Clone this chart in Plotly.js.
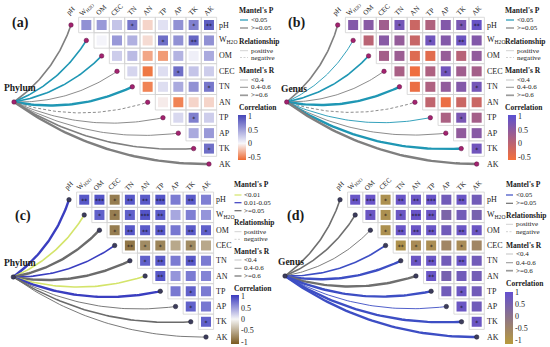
<!DOCTYPE html>
<html><head><meta charset="utf-8">
<script src="https://cdn.plot.ly/plotly-3.0.1.min.js"></script>
<style>html,body{margin:0;padding:0;background:#fff}#chart{width:550px;height:347px}</style>
</head><body><div id="chart"></div>
<script>
// ---------- DATA ----------
const variables = ['pH','W<sub>H2O</sub>','OM','CEC','TN','AN','TP','AP','TK','AK'];

// Environmental correlation matrix used in panels (a) and (b): upper triangle, row by row
const envCorrAB = [
  [0.60, 0.55, 0.30, 0.75, -0.15, 0.13, 0.60, 0.70, 0.90],
  [0.02, 0.55, 0.42, -0.12, 0.80, 0.60, 0.85, 0.60],
  [0.25, 0.35, -0.35, -0.40, 0.40, 0.05, 0.45],
  [0.20, -0.55, 0.15, 0.80, 0.30, 0.25],
  [-0.50, 0.15, 0.45, 0.60, 0.75],
  [-0.05, -0.50, -0.15, -0.15],
  [0.18, 0.70, 0.25],
  [0.45, 0.55],
  [0.80]
];
const envSigAB = [
  ['', '', '', '*', '', '', '', '*', '**'],
  ['', '', '', '', '*', '', '**', ''],
  ['', '', '', '', '', '', ''],
  ['', '', '', '*', '', ''],
  ['', '', '', '', '*'],
  ['', '', '', ''],
  ['', '*', ''],
  ['', ''],
  ['*']
];
// Environmental correlation matrix used in panels (c) and (d)
const envCorrCD = [
  [0.90, 0.92, -0.85, 0.90, 0.88, 0.92, 0.70, 0.88, 0.68],
  [0.85, -0.85, 0.85, 0.92, 0.88, 0.45, 0.68, 0.55],
  [-0.85, 0.90, 0.88, 0.90, 0.72, 0.88, 0.85],
  [-0.90, -0.75, -0.80, -0.55, -0.75, -0.55],
  [0.85, 0.90, 0.70, 0.90, 0.70],
  [0.90, 0.55, 0.70, 0.65],
  [0.72, 0.85, 0.70],
  [0.85, 0.72],
  [0.85]
];
const envSigCD = [
  ['**', '***', '*', '**', '**', '***', '', '**', ''],
  ['*', '*', '*', '***', '**', '', '', ''],
  ['*', '**', '**', '**', '', '**', '*'],
  ['**', '*', '*', '', '*', ''],
  ['*', '**', '', '**', ''],
  ['**', '', '', ''],
  ['', '*', ''],
  ['*', ''],
  ['*']
];

// Mantel test links (one per variable, in the order of `variables`)
const mantelP_A = ['>=0.05','<0.05','<0.05','>=0.05','<0.05','>=0.05','>=0.05','>=0.05','>=0.05','>=0.05'];
const mantelR_A = ['0.4-0.6','0.4-0.6','0.4-0.6','<0.4','>=0.6','<0.4','<0.4','<0.4','0.4-0.6','>=0.6'];
const relation_A = ['positive','positive','positive','positive','positive','negative','positive','positive','positive','positive'];

const mantelP_B = ['>=0.05','<0.05','<0.05','>=0.05','<0.05','>=0.05','<0.05','>=0.05','<0.05','>=0.05'];
const mantelR_B = ['0.4-0.6','<0.4','0.4-0.6','<0.4','>=0.6','<0.4','<0.4','<0.4','>=0.6','>=0.6'];
const relation_B = ['positive','positive','positive','positive','positive','negative','positive','positive','positive','positive'];

const mantelP_C = ['0.01-0.05','<0.01','>=0.05','0.01-0.05','>=0.05','<0.01','0.01-0.05','>=0.05','>=0.05','>=0.05'];
const mantelR_C = ['>=0.6','0.4-0.6','>=0.6','0.4-0.6','>=0.6','0.4-0.6','>=0.6','<0.4','0.4-0.6','<0.4'];
const relation_C = ['positive','positive','positive','positive','positive','positive','positive','positive','positive','positive'];

const mantelP_D = ['>=0.05','>=0.05','>=0.05','<0.05','<0.05','>=0.05','<0.05','<0.05','<0.05','<0.05'];
const mantelR_D = ['0.4-0.6','0.4-0.6','<0.4','0.4-0.6','>=0.6','>=0.6','>=0.6','<0.4','>=0.6','>=0.6'];
const relation_D = ['positive','positive','positive','positive','positive','positive','positive','positive','positive','positive'];

const rLevels = ['<0.4','0.4-0.6','>=0.6'];
const corrTicks = [1, 0.5, 0, -0.5];
const corrTicksFull = [1, 0.5, 0, -0.5, -1];

// ---------- STYLE / LAYOUT ----------
const W = 550, H = 347;
const px = x => x / W, py = y => 1 - y / H;
const SERIF = '"Liberation Serif", "Times New Roman", serif';
const TXT = '#1a1a1a';
const rWidth = {'<0.4': 0.9, '0.4-0.6': 1.6, '>=0.6': 2.4};
const legRWidth = [0.6, 1.1, 1.7];
const CURV = 0.16;

const panels = [
  {letter:'(a)', letterPos:[20.5,23], group:'Phylum', groupPos:[3,88],
   corr:envCorrAB, sig:envSigAB, P:mantelP_A, R:mantelR_A, S:relation_A,
   box:[0,0,275,173], g0:[71,25], cell:[15.33,15.45], hub:[14,102],
   pLevels:['<0.05','>=0.05'], pColors:{'<0.05':'#1f97b4','>=0.05':'#7f7f7f'},
   dot:'#a3226f', dotLine:'#5c1040',
   cs:[[0,'#ee6a30'],[0.37,'#f7f7fb'],[1,'#4646b8']], cmin:-0.61, cmax:1.04,
   ticks:corrTicks, cb:[238,115,45],
   leg:{x:238, lx0:240, lx1:248, tx:250, P:10.7, Pi:[20,28], Rel:41.7, Reli:[50.7,57.5], R:70.7, Ri:[80,87.3,95.3], C:107.3}},
  {letter:'(b)', letterPos:[296,23], group:'Genus', groupPos:[280,89],
   corr:envCorrAB, sig:envSigAB, P:mantelP_B, R:mantelR_B, S:relation_B,
   box:[275,0,550,173], g0:[337.7,25], cell:[15.44,15.45], hub:[286.7,102],
   pLevels:['<0.05','>=0.05'], pColors:{'<0.05':'#1f97b4','>=0.05':'#7f7f7f'},
   dot:'#a3226f', dotLine:'#5c1040',
   cs:[[0,'#f5703a'],[1,'#5a50d2']], cmin:-0.61, cmax:1.04,
   ticks:corrTicks, cb:[507.5,115,45],
   leg:{x:504, lx0:506, lx1:514, tx:516, P:10.7, Pi:[20,28], Rel:41.7, Reli:[50.7,57.5], R:70.7, Ri:[80,87.3,95.3], C:107.3}},
  {letter:'(c)', letterPos:[22.5,216], group:'Phylum', groupPos:[3,263],
   corr:envCorrCD, sig:envSigCD, P:mantelP_C, R:mantelR_C, S:relation_C,
   box:[0,173,275,347], g0:[69,199.7], cell:[15.22,15.26], hub:[13.3,277],
   pLevels:['<0.01','0.01-0.05','>=0.05'], pColors:{'<0.01':'#d4e46a','0.01-0.05':'#3a3ec0','>=0.05':'#6b6b6b'},
   dot:'#3c3c5c', dotLine:'#1e1e30',
   cs:[[0,'#7a5a20'],[0.507,'#f6f6f6'],[1,'#3a3abf']], cmin:-1.1, cmax:1.07,
   ticks:corrTicksFull, cb:[231,295,49],
   leg:{x:233, lx0:234.5, lx1:241.5, tx:243, P:184, Pi:[195,202.7,210.7], Rel:222.7, Reli:[231.7,239.3], R:251.7, Ri:[260,268.3,276], C:288.3}},
  {letter:'(d)', letterPos:[295,216], group:'Genus', groupPos:[277,262],
   corr:envCorrCD, sig:envSigCD, P:mantelP_D, R:mantelR_D, S:relation_D,
   box:[275,173,550,347], g0:[340,199.7], cell:[15.19,15.26], hub:[285,276],
   pLevels:['<0.05','>=0.05'], pColors:{'<0.05':'#3d4ec4','>=0.05':'#6f6f6f'},
   dot:'#3c3c5c', dotLine:'#1e1e30',
   cs:[[0,'#b89a3c'],[1,'#6450d0']], cmin:-1.15, cmax:1.04,
   ticks:corrTicksFull, cb:[505,291.7,52],
   leg:{x:505, lx0:506, lx1:513, tx:515, P:184, Pi:[195,203.3], Rel:215, Reli:[224.3,231.7], R:245.7, Ri:[254,262.7,270.7], C:283.3}}
];

function curvePts(x0, y0, x1, y1, k, n) {
  const dx = x1 - x0, dy = y1 - y0;
  const cx = (x0 + x1) / 2 - k * dy, cy = (y0 + y1) / 2 + k * dx;
  const xs = [], ys = [];
  for (let i = 0; i <= n; i++) {
    const t = i / n, a = (1 - t) * (1 - t), b = 2 * (1 - t) * t, c = t * t;
    xs.push(a * x0 + b * cx + c * x1);
    ys.push(a * y0 + b * cy + c * y1);
  }
  return [xs, ys];
}

const data = [], shapes = [], annotations = [];
const layout = {width: W, height: H, margin: {l:0, r:0, t:0, b:0}, paper_bgcolor: '#ffffff',
  plot_bgcolor: 'rgba(0,0,0,0)', showlegend: false, hovermode: false, shapes, annotations};

function ann(o) { annotations.push(Object.assign({showarrow:false, borderpad:0, font:{family:SERIF, size:8, color:TXT}}, o)); }

panels.forEach((Pn, n) => {
  const sfx = n === 0 ? '' : String(n + 1);
  const xa = 'x' + sfx, ya = 'y' + sfx;
  const [bx0, by0, bx1, by1] = Pn.box;
  layout['xaxis' + sfx] = {domain:[bx0/W, bx1/W], range:[(bx0-Pn.g0[0])/Pn.cell[0], (bx1-Pn.g0[0])/Pn.cell[0]],
    visible:false, fixedrange:true, anchor:ya};
  layout['yaxis' + sfx] = {domain:[1-by1/H, 1-by0/H], range:[(by1-Pn.g0[1])/Pn.cell[1], (by0-Pn.g0[1])/Pn.cell[1]],
    visible:false, fixedrange:true, anchor:xa};
  const hx = (Pn.hub[0]-Pn.g0[0])/Pn.cell[0], hy = (Pn.hub[1]-Pn.g0[1])/Pn.cell[1];

  // cell borders
  Pn.corr.forEach((row, i) => row.forEach((v, k) => {
    const j = i + 1 + k;
    shapes.push({type:'rect', xref:xa, yref:ya, x0:j-0.5, x1:j+0.5, y0:i-0.5, y1:i+0.5,
      line:{color:'#d2d2d2', width:0.8}, fillcolor:'rgba(0,0,0,0)', layer:'below'});
  }));

  // links
  variables.forEach((v, i) => {
    const [xs, ys] = curvePts(hx, hy, i, i, CURV, 50);
    data.push({type:'scatter', mode:'lines', xaxis:xa, yaxis:ya, x:xs, y:ys,
      line:{color:Pn.pColors[Pn.P[i]], width:rWidth[Pn.R[i]], dash: Pn.S[i]==='negative' ? '3px,2px' : 'solid'}});
  });

  // correlation squares
  const sx = [], sy = [], sc = [], tx = [], ty = [], tt = [];
  Pn.corr.forEach((row, i) => row.forEach((v, k) => {
    const j = i + 1 + k;
    sx.push(j); sy.push(i); sc.push(v);
    const s = Pn.sig[i][k];
    if (s) { tx.push(j); ty.push(i + 0.12); tt.push(s); }
  }));
  data.push({type:'scatter', mode:'markers', xaxis:xa, yaxis:ya, x:sx, y:sy,
    marker:{symbol:'square', size:10, color:sc, colorscale:Pn.cs, cmin:Pn.cmin, cmax:Pn.cmax, line:{width:0},
      showscale:true,
      colorbar:{x:px(Pn.cb[0]), xanchor:'left', xref:'paper', y:py(Pn.cb[1]), yanchor:'top', yref:'paper',
        len:Pn.cb[2], lenmode:'pixels', thickness:8, thicknessmode:'pixels', xpad:0, ypad:0,
        outlinewidth:0, tickvals:Pn.ticks, ticktext:Pn.ticks.map(String), ticks:'',
        tickfont:{family:SERIF, size:8, color:TXT}}}});
  data.push({type:'scatter', mode:'text', xaxis:xa, yaxis:ya, x:tx, y:ty, text:tt,
    textposition:'middle center', textfont:{family:'DejaVu Sans', size:6, color:'#111'}});

  // end points
  const dx = [hx], dy = [hy];
  variables.forEach((v, i) => { dx.push(i); dy.push(i); });
  data.push({type:'scatter', mode:'markers', xaxis:xa, yaxis:ya, x:dx, y:dy,
    marker:{size:4.5, color:Pn.dot, line:{color:Pn.dotLine, width:0.5}}});

  // axis labels
  variables.forEach((v, i) => {
    ann({xref:xa, yref:ya, x:i, y:-0.4, text:v, textangle:-45, xanchor:'center', yanchor:'bottom',
      font:{family:SERIF, size:7, color:TXT}});
    ann({xref:xa, yref:ya, x:9.6, y:i, text:v, xanchor:'left', yanchor:'middle'});
  });

  // panel letter and group label
  ann({xref:'paper', yref:'paper', x:px(Pn.letterPos[0]), y:py(Pn.letterPos[1]), text:'<b>'+Pn.letter+'</b>',
    xanchor:'center', yanchor:'middle', font:{family:SERIF, size:14, color:TXT}});
  ann({xref:'paper', yref:'paper', x:px(Pn.groupPos[0]), y:py(Pn.groupPos[1]), text:'<b>'+Pn.group+'</b>',
    xanchor:'left', yanchor:'middle', font:{family:SERIF, size:9.5, color:TXT}});

  // legend
  const L = Pn.leg;
  const head = (t, y) => ann({xref:'paper', yref:'paper', x:px(L.x), y:py(y), text:'<b>'+t+'</b>', xanchor:'left', yanchor:'middle',
    font:{family:SERIF, size:7.5, color:TXT}});
  const item = (t, y, color, width, dash) => {
    ann({xref:'paper', yref:'paper', x:px(L.tx), y:py(y), text:t, xanchor:'left', yanchor:'middle',
      font:{family:SERIF, size:7, color:TXT}});
    shapes.push({type:'line', xref:'paper', yref:'paper', x0:px(L.lx0), x1:px(L.lx1), y0:py(y), y1:py(y),
      line:{color, width, dash: dash || 'solid'}});
  };
  head("Mantel's P", L.P);
  Pn.pLevels.forEach((lv, i) => item(lv.replace('<','&lt;').replace('>','&gt;'), L.Pi[i], Pn.pColors[lv], 1.2));
  head('Relationship', L.Rel);
  item('positive', L.Reli[0], '#c6c6c6', 0.8);
  item('negative', L.Reli[1], '#c6c6c6', 0.8, '2px,1.5px');
  head("Mantel's R", L.R);
  rLevels.forEach((lv, i) => item(lv.replace('<','&lt;').replace('>','&gt;'), L.Ri[i], '#9a9a9a', legRWidth[i]));
  head('Correlation', L.C);
});

Plotly.newPlot('chart', data, layout, {staticPlot:true, displayModeBar:false});
</script>
</body></html>
